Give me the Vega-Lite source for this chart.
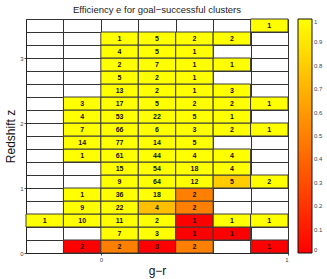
{
  "$schema": "https://vega.github.io/schema/vega-lite/v6.json",
  "width": 262,
  "height": 234,
  "autosize": "none",
  "padding": {"left": 26, "top": 19, "right": 39, "bottom": 26},
  "background": "white",
  "config": {
    "view": {"stroke": null},
    "font": "Liberation Sans"
  },
  "title": {
    "text": "Efficiency e for goal\u2212successful clusters",
    "fontSize": 9.5,
    "fontWeight": "normal",
    "color": "#222",
    "offset": 4
  },
  "data": {
    "values": [
      {"g": -0.2, "g2": 0.0, "z": 0.0, "z2": 0.2, "n": 2, "e": 0},
      {"g": 0.0, "g2": 0.2, "z": 0.0, "z2": 0.2, "n": 2, "e": 0.5},
      {"g": 0.2, "g2": 0.4, "z": 0.0, "z2": 0.2, "n": 3, "e": 0},
      {"g": 0.4, "g2": 0.6, "z": 0.0, "z2": 0.2, "n": 2, "e": 0.5},
      {"g": 0.8, "g2": 1.0, "z": 0.0, "z2": 0.2, "n": 1, "e": 0},

      {"g": 0.0, "g2": 0.2, "z": 0.2, "z2": 0.4, "n": 7, "e": 1},
      {"g": 0.2, "g2": 0.4, "z": 0.2, "z2": 0.4, "n": 3, "e": 1},
      {"g": 0.4, "g2": 0.6, "z": 0.2, "z2": 0.4, "n": 1, "e": 0},
      {"g": 0.6, "g2": 0.8, "z": 0.2, "z2": 0.4, "n": 1, "e": 0},

      {"g": -0.4, "g2": -0.2, "z": 0.4, "z2": 0.6, "n": 1, "e": 1},
      {"g": -0.2, "g2": 0.0, "z": 0.4, "z2": 0.6, "n": 10, "e": 1},
      {"g": 0.0, "g2": 0.2, "z": 0.4, "z2": 0.6, "n": 11, "e": 1},
      {"g": 0.2, "g2": 0.4, "z": 0.4, "z2": 0.6, "n": 2, "e": 1},
      {"g": 0.4, "g2": 0.6, "z": 0.4, "z2": 0.6, "n": 1, "e": 0},
      {"g": 0.6, "g2": 0.8, "z": 0.4, "z2": 0.6, "n": 1, "e": 1},
      {"g": 0.8, "g2": 1.0, "z": 0.4, "z2": 0.6, "n": 1, "e": 1},

      {"g": -0.2, "g2": 0.0, "z": 0.6, "z2": 0.8, "n": 9, "e": 1},
      {"g": 0.0, "g2": 0.2, "z": 0.6, "z2": 0.8, "n": 22, "e": 1},
      {"g": 0.2, "g2": 0.4, "z": 0.6, "z2": 0.8, "n": 4, "e": 0.75},
      {"g": 0.4, "g2": 0.6, "z": 0.6, "z2": 0.8, "n": 2, "e": 0.5},

      {"g": -0.2, "g2": 0.0, "z": 0.8, "z2": 1.0, "n": 1, "e": 1},
      {"g": 0.0, "g2": 0.2, "z": 0.8, "z2": 1.0, "n": 36, "e": 1},
      {"g": 0.2, "g2": 0.4, "z": 0.8, "z2": 1.0, "n": 18, "e": 1},
      {"g": 0.4, "g2": 0.6, "z": 0.8, "z2": 1.0, "n": 2, "e": 0.5},

      {"g": 0.0, "g2": 0.2, "z": 1.0, "z2": 1.2, "n": 9, "e": 1},
      {"g": 0.2, "g2": 0.4, "z": 1.0, "z2": 1.2, "n": 64, "e": 1},
      {"g": 0.4, "g2": 0.6, "z": 1.0, "z2": 1.2, "n": 12, "e": 1},
      {"g": 0.6, "g2": 0.8, "z": 1.0, "z2": 1.2, "n": 5, "e": 0.8},
      {"g": 0.8, "g2": 1.0, "z": 1.0, "z2": 1.2, "n": 2, "e": 1},

      {"g": 0.0, "g2": 0.2, "z": 1.2, "z2": 1.4, "n": 15, "e": 1},
      {"g": 0.2, "g2": 0.4, "z": 1.2, "z2": 1.4, "n": 54, "e": 1},
      {"g": 0.4, "g2": 0.6, "z": 1.2, "z2": 1.4, "n": 18, "e": 1},
      {"g": 0.6, "g2": 0.8, "z": 1.2, "z2": 1.4, "n": 4, "e": 1},

      {"g": -0.2, "g2": 0.0, "z": 1.4, "z2": 1.6, "n": 1, "e": 1},
      {"g": 0.0, "g2": 0.2, "z": 1.4, "z2": 1.6, "n": 61, "e": 1},
      {"g": 0.2, "g2": 0.4, "z": 1.4, "z2": 1.6, "n": 44, "e": 1},
      {"g": 0.4, "g2": 0.6, "z": 1.4, "z2": 1.6, "n": 4, "e": 1},
      {"g": 0.6, "g2": 0.8, "z": 1.4, "z2": 1.6, "n": 4, "e": 1},

      {"g": -0.2, "g2": 0.0, "z": 1.6, "z2": 1.8, "n": 14, "e": 1},
      {"g": 0.0, "g2": 0.2, "z": 1.6, "z2": 1.8, "n": 77, "e": 1},
      {"g": 0.2, "g2": 0.4, "z": 1.6, "z2": 1.8, "n": 14, "e": 1},
      {"g": 0.4, "g2": 0.6, "z": 1.6, "z2": 1.8, "n": 5, "e": 1},

      {"g": -0.2, "g2": 0.0, "z": 1.8, "z2": 2.0, "n": 7, "e": 1},
      {"g": 0.0, "g2": 0.2, "z": 1.8, "z2": 2.0, "n": 66, "e": 1},
      {"g": 0.2, "g2": 0.4, "z": 1.8, "z2": 2.0, "n": 6, "e": 1},
      {"g": 0.4, "g2": 0.6, "z": 1.8, "z2": 2.0, "n": 3, "e": 1},
      {"g": 0.6, "g2": 0.8, "z": 1.8, "z2": 2.0, "n": 2, "e": 1},
      {"g": 0.8, "g2": 1.0, "z": 1.8, "z2": 2.0, "n": 1, "e": 1},

      {"g": -0.2, "g2": 0.0, "z": 2.0, "z2": 2.2, "n": 4, "e": 1},
      {"g": 0.0, "g2": 0.2, "z": 2.0, "z2": 2.2, "n": 53, "e": 1},
      {"g": 0.2, "g2": 0.4, "z": 2.0, "z2": 2.2, "n": 22, "e": 1},
      {"g": 0.4, "g2": 0.6, "z": 2.0, "z2": 2.2, "n": 5, "e": 1},
      {"g": 0.6, "g2": 0.8, "z": 2.0, "z2": 2.2, "n": 1, "e": 1},

      {"g": -0.2, "g2": 0.0, "z": 2.2, "z2": 2.4, "n": 3, "e": 1},
      {"g": 0.0, "g2": 0.2, "z": 2.2, "z2": 2.4, "n": 17, "e": 1},
      {"g": 0.2, "g2": 0.4, "z": 2.2, "z2": 2.4, "n": 5, "e": 1},
      {"g": 0.4, "g2": 0.6, "z": 2.2, "z2": 2.4, "n": 2, "e": 1},
      {"g": 0.6, "g2": 0.8, "z": 2.2, "z2": 2.4, "n": 2, "e": 1},
      {"g": 0.8, "g2": 1.0, "z": 2.2, "z2": 2.4, "n": 1, "e": 1},

      {"g": 0.0, "g2": 0.2, "z": 2.4, "z2": 2.6, "n": 13, "e": 1},
      {"g": 0.2, "g2": 0.4, "z": 2.4, "z2": 2.6, "n": 2, "e": 1},
      {"g": 0.4, "g2": 0.6, "z": 2.4, "z2": 2.6, "n": 1, "e": 1},
      {"g": 0.6, "g2": 0.8, "z": 2.4, "z2": 2.6, "n": 3, "e": 1},

      {"g": 0.0, "g2": 0.2, "z": 2.6, "z2": 2.8, "n": 5, "e": 1},
      {"g": 0.2, "g2": 0.4, "z": 2.6, "z2": 2.8, "n": 2, "e": 1},
      {"g": 0.4, "g2": 0.6, "z": 2.6, "z2": 2.8, "n": 1, "e": 1},

      {"g": 0.0, "g2": 0.2, "z": 2.8, "z2": 3.0, "n": 2, "e": 1},
      {"g": 0.2, "g2": 0.4, "z": 2.8, "z2": 3.0, "n": 7, "e": 1},
      {"g": 0.4, "g2": 0.6, "z": 2.8, "z2": 3.0, "n": 1, "e": 1},
      {"g": 0.6, "g2": 0.8, "z": 2.8, "z2": 3.0, "n": 1, "e": 1},

      {"g": 0.0, "g2": 0.2, "z": 3.0, "z2": 3.2, "n": 4, "e": 1},
      {"g": 0.2, "g2": 0.4, "z": 3.0, "z2": 3.2, "n": 5, "e": 1},
      {"g": 0.4, "g2": 0.6, "z": 3.0, "z2": 3.2, "n": 1, "e": 1},

      {"g": 0.0, "g2": 0.2, "z": 3.2, "z2": 3.4, "n": 1, "e": 1},
      {"g": 0.2, "g2": 0.4, "z": 3.2, "z2": 3.4, "n": 5, "e": 1},
      {"g": 0.4, "g2": 0.6, "z": 3.2, "z2": 3.4, "n": 2, "e": 1},
      {"g": 0.6, "g2": 0.8, "z": 3.2, "z2": 3.4, "n": 2, "e": 1},

      {"g": 0.8, "g2": 1.0, "z": 3.4, "z2": 3.6, "n": 1, "e": 1}
    ]
  },
  "encoding": {
    "x": {
      "field": "g",
      "type": "quantitative",
      "scale": {"domain": [-0.4, 1.0], "nice": false, "zero": false},
      "axis": {
        "title": "g\u2212r",
        "titleFontSize": 12,
        "titleFontWeight": "normal",
        "titleColor": "#111",
        "titlePadding": 3,
        "values": [-0.4, -0.2, 0, 0.2, 0.4, 0.6, 0.8, 1],
        "format": "~g",
        "labelExpr": "datum.value == 0 || datum.value == 1 ? datum.label : ''",
        "labelFontSize": 6,
        "labelColor": "#444",
        "labelPadding": 1,
        "tickSize": 2,
        "tickColor": "#444",
        "tickOpacity": {"condition": {"test": "datum.value == 0 || datum.value == 1", "value": 1}, "value": 0},
        "grid": true,
        "gridColor": "#333",
        "gridOpacity": 1,
        "domainColor": "#222"
      }
    },
    "y": {
      "field": "z",
      "type": "quantitative",
      "scale": {"domain": [0, 3.6], "nice": false, "zero": false},
      "axis": {
        "title": "Redshift z",
        "titleFontSize": 12,
        "titleFontWeight": "normal",
        "titleColor": "#111",
        "titlePadding": 2,
        "values": [0, 0.2, 0.4, 0.6, 0.8, 1, 1.2, 1.4, 1.6, 1.8, 2, 2.2, 2.4, 2.6, 2.8, 3, 3.2, 3.4, 3.6],
        "format": "~g",
        "labelExpr": "datum.value == floor(datum.value) ? datum.label : ''",
        "labelFontSize": 6,
        "labelColor": "#444",
        "labelPadding": 1,
        "tickSize": 2,
        "tickColor": "#444",
        "tickOpacity": {"condition": {"test": "datum.value == floor(datum.value)", "value": 1}, "value": 0},
        "grid": true,
        "gridColor": "#333",
        "gridOpacity": 1,
        "domainColor": "#222"
      }
    }
  },
  "layer": [
    {
      "mark": {"type": "rect", "stroke": "#3a3a3a", "strokeWidth": 1},
      "encoding": {
        "x2": {"field": "g2"},
        "y2": {"field": "z2"},
        "color": {
          "field": "e",
          "type": "quantitative",
          "scale": {"domain": [0, 1], "range": ["#ff0000", "#ffff00"], "interpolate": "rgb"},
          "legend": {
            "title": null,
            "orient": "none",
            "legendX": 272,
            "legendY": 0,
            "direction": "vertical",
            "gradientLength": 234,
            "gradientThickness": 14,
            "gradientStrokeColor": "#111",
            "gradientStrokeWidth": 1,
            "values": [0, 0.1, 0.2, 0.3, 0.4, 0.5, 0.6, 0.7, 0.8, 0.9, 1],
            "format": "~g",
            "labelFontSize": 6,
            "labelColor": "#444",
            "labelOffset": 2,
            "labelOverlap": false
          }
        }
      }
    },
    {
      "mark": {"type": "text", "fontSize": 7, "fontWeight": "bold", "color": "#111", "align": "center", "baseline": "middle", "dx": 18.7, "dy": -6.5},
      "encoding": {
        "text": {"field": "n", "type": "quantitative"}
      }
    }
  ]
}
